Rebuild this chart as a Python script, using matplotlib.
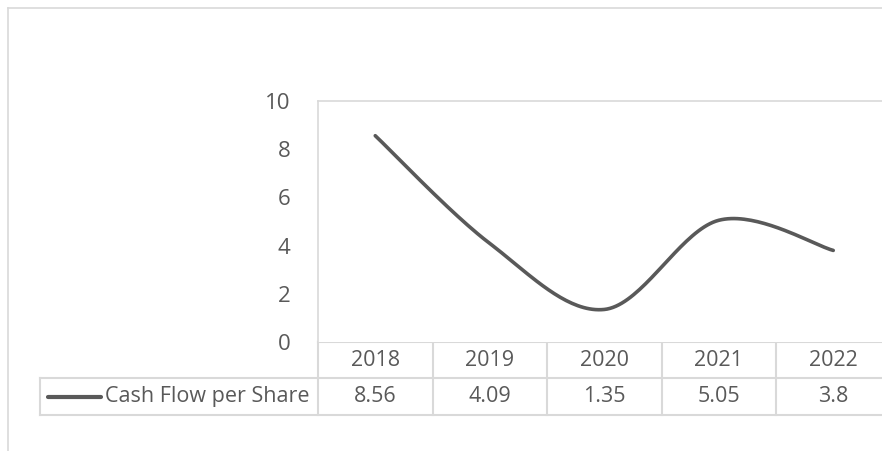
import numpy as np
import matplotlib.pyplot as plt

years = ['2018', '2019', '2020', '2021', '2022']
cash_flow = [8.56, 4.09, 1.35, 5.05, 3.8]
value_labels = ['8.56', '4.09', '1.35', '5.05', '3.8']
series_name = 'Cash Flow per Share'
y_ticks = [0, 2, 4, 6, 8, 10]

plt.rcParams['font.family'] = ['Open Sans', 'DejaVu Sans']
TXT = '#595959'
GRID = '#d9d9d9'


def excel_smooth(x, y, n=40):
    # cubic bezier through the points, like Excel's "smoothed line"
    pts = np.column_stack([x, y]).astype(float)
    p = np.vstack([pts[0], pts, pts[-1]])
    out = []
    for i in range(len(pts) - 1):
        p0, p1, p2, p3 = p[i], p[i + 1], p[i + 2], p[i + 3]
        c1 = p1 + (p2 - p0) / 6
        c2 = p2 - (p3 - p1) / 6
        t = np.linspace(0, 1, n)[:, None]
        seg = (1 - t) ** 3 * p1 + 3 * (1 - t) ** 2 * t * c1 + 3 * (1 - t) * t ** 2 * c2 + t ** 3 * p2
        out.append(seg if i == 0 else seg[1:])
    return np.vstack(out)


W, H = 882, 451
fig = plt.figure(figsize=(W / 100, H / 100), dpi=100)

# plot area (pixels)
left, top, bottom = 318, 101, 342
colw = 114.5
right = left + colw * len(years)
row1, row2 = 378, 415
leg_left = 40

ax = fig.add_axes([left / W, 1 - bottom / H, (right - left) / W, (bottom - top) / H])
xs = np.arange(len(years))
curve = excel_smooth(xs, cash_flow)
ax.plot(curve[:, 0], curve[:, 1], color='#595959', lw=2.6, solid_capstyle='round')
ax.set_xlim(-0.5, len(years) - 0.5)
ax.set_ylim(0, 10)
ax.set_yticks(y_ticks)
ax.set_yticklabels([str(v) for v in y_ticks], fontsize=16, color=TXT)
ax.tick_params(axis='y', length=0, pad=20)
ax.set_xticks([])
for s in ax.spines.values():
    s.set_color(GRID)
    s.set_linewidth(1.2)
ax.spines['bottom'].set_visible(False)

# overlay for chart border and data table
ov = fig.add_axes([0, 0, 1, 1], zorder=-1)
ov.set_xlim(0, W)
ov.set_ylim(H, 0)
ov.axis('off')

# outer chart border
ov.plot([8, 8], [8, H + 5], color=GRID, lw=1.2)
ov.plot([8, W + 5], [8, 8], color=GRID, lw=1.2)

# table grid
lc = dict(color=GRID, lw=1.5)
ov.plot([left, W + 5], [bottom, bottom], **lc)
ov.plot([leg_left, W + 5], [row1, row1], **lc)
ov.plot([leg_left, W + 5], [row2, row2], **lc)
ov.plot([leg_left, leg_left], [row1, row2], **lc)
for i in range(len(years) + 1):
    xb = left + i * colw
    ov.plot([xb, xb], [bottom, row2], **lc)

fs = 15.5
for i, (yr, v) in enumerate(zip(years, value_labels)):
    xc = left + (i + 0.5) * colw
    ov.text(xc, (bottom + row1) / 2, yr, ha='center', va='center', fontsize=fs, color=TXT)
    ov.text(xc, (row1 + row2) / 2, v, ha='center', va='center', fontsize=fs, color=TXT)

# legend key in table
ym = (row1 + row2) / 2
ov.plot([48, 101], [ym, ym], color='#595959', lw=3, solid_capstyle='round')
ov.text(105, ym, series_name, ha='left', va='center', fontsize=fs, color=TXT)

fig.savefig('out.png', dpi=100)
